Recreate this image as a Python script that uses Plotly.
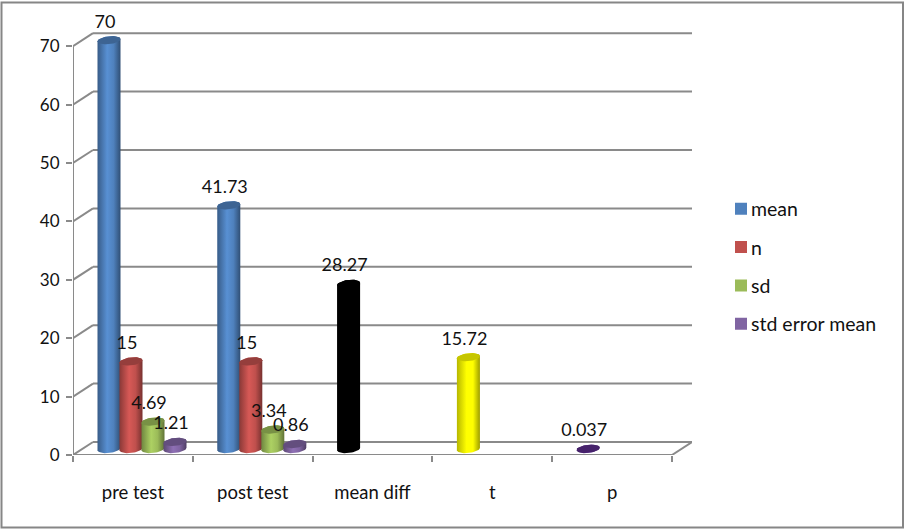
import math
import plotly.graph_objects as go

categories = ["pre test", "post test", "mean diff", "t", "p"]
mean = [70, 41.73, 28.27, 15.72, 0.037]
n = [15, 15, None, None, None]
sd = [4.69, 3.34, None, None, None]
std_error_mean = [1.21, 0.86, None, None, None]
series_names = ["mean", "n", "sd", "std error mean"]
series_values = [mean, n, sd, std_error_mean]
series_colors = ["#4F81BD", "#C0504D", "#9BBB59", "#8064A2"]
mean_point_colors = ["#4F81BD", "#4F81BD", "#000000", "#FFFF00", "#5B2C8A"]
y_ticks = [0, 10, 20, 30, 40, 50, 60, 70]

W, H = 906, 531
LEFT, RIGHT, FLOOR, TOP = 73, 672, 455, 6
DEPTH_X, DEPTH_Y = 20, 13
PX_X = (RIGHT - LEFT) / len(categories)
PX_Y = 5.84
GRID = "#8A8A8A"
FONT = "Lato"
TEXT = "#111111"


def shade(hex_color, f):
    r, g, b = (int(hex_color[i:i + 2], 16) for i in (1, 3, 5))
    return "#%02X%02X%02X" % tuple(min(255, int(c * f)) for c in (r, g, b))


dx, dy = DEPTH_X / PX_X, DEPTH_Y / PX_Y
fig = go.Figure()
shapes = []


def line(x0, y0, x1, y1):
    shapes.append(dict(type="line", xref="x", yref="y", x0=x0, y0=y0, x1=x1, y1=y1,
                       layer="below", line=dict(color=GRID, width=2)))


nc = len(categories)
for v in y_ticks:
    line(0, v, dx, v + dy)
    line(dx, v + dy, nc + dx, v + dy)
line(0, 0, nc, 0)
line(nc, 0, nc + dx, dy)
line(0, 0, 0, y_ticks[-1])

A, B, TILT = 11.5, 4.0, 0.10
BAR_W = 22
GROUP_OFF = 25
BASE = 6.0 / PX_Y


def ell(cx, cy, a0, a1, steps=24):
    xs, ys = [], []
    for k in range(steps + 1):
        t = math.radians(a0 + (a1 - a0) * k / steps)
        px, py = A * math.cos(t), B * math.sin(t) + TILT * A * math.cos(t)
        xs.append(cx + px / PX_X)
        ys.append(cy + py / PX_Y)
    return xs, ys


for j, (name, vals, col) in enumerate(zip(series_names, series_values, series_colors)):
    colors = mean_point_colors if j == 0 else [col] * nc
    fig.add_trace(go.Bar(
        x=list(range(nc)), y=vals, base=[BASE] * nc, name=name,
        width=BAR_W / PX_X, offset=(GROUP_OFF + BAR_W * j) / PX_X,
        marker=dict(color=colors, line=dict(width=0)),
        legendgroup=name, hoverinfo="name+y",
    ))

for j, (name, vals, col) in enumerate(zip(series_names, series_values, series_colors)):
    colors = mean_point_colors if j == 0 else [col] * nc
    lx, ly, lt = [], [], []
    for i, v in enumerate(vals):
        if v is None:
            continue
        c = colors[i]
        cx = i + (GROUP_OFF + BAR_W * j + BAR_W / 2) / PX_X
        top = BASE + v
        bx, by = ell(cx, BASE, 180, 360)
        tx, ty = ell(cx, top, 0, 180)
        fig.add_trace(go.Scatter(
            x=bx + tx + bx[:1], y=by + ty + by[:1], mode="lines", fill="toself",
            line=dict(width=0), showlegend=False, hoverinfo="skip",
            fillgradient=dict(type="horizontal", colorscale=[
                [0, shade(c, 0.72)], [0.42, shade(c, 1.12)], [0.7, shade(c, 1.0)], [1, shade(c, 0.62)]]),
        ))
        ex, ey = ell(cx, top, 0, 360, 48)
        fig.add_trace(go.Scatter(
            x=ex, y=ey, mode="lines", fill="toself", fillcolor=shade(c, 0.78),
            line=dict(width=0), showlegend=False, hoverinfo="skip",
        ))
        lx.append(cx - 4 / PX_X)
        ly.append(top + 17 / PX_Y)
        lt.append(str(v))
    fig.add_trace(go.Scatter(
        x=lx, y=ly, text=lt, mode="text", textposition="middle center",
        textfont=dict(family=FONT, size=18, color=TEXT),
        showlegend=False, hoverinfo="skip",
    ))

# frame around the chart
pw, ph = (RIGHT + DEPTH_X - LEFT), (FLOOR - TOP)
shapes.append(dict(type="rect", xref="paper", yref="paper",
                   x0=(1.5 - LEFT) / pw, x1=(903 - LEFT) / pw,
                   y0=(FLOOR - 527.5) / ph, y1=(FLOOR - 2.5) / ph,
                   layer="below", line=dict(color="#868686", width=2)))

fig.update_layout(
    width=W, height=H, autosize=False,
    margin=dict(l=LEFT, r=W - RIGHT - DEPTH_X, t=TOP, b=H - FLOOR, pad=0, autoexpand=False),
    paper_bgcolor="white", plot_bgcolor="rgba(0,0,0,0)",
    barmode="overlay", shapes=shapes,
    font=dict(family=FONT, size=18, color=TEXT),
    legend=dict(x=(711 - LEFT) / pw, xanchor="left", y=(FLOOR - 266.5) / ph, yanchor="middle",
                traceorder="grouped", tracegroupgap=10, bgcolor="rgba(0,0,0,0)",
                font=dict(family=FONT, size=19.5, color=TEXT)),
    xaxis=dict(range=[0, nc + dx], tickmode="array", tickvals=[i + 0.5 for i in range(nc)],
               ticktext=categories, ticklen=0, ticklabelstandoff=24, showgrid=False, zeroline=False,
               showline=False, tickfont=dict(family=FONT, size=18.5, color=TEXT),
               minor=dict(tickmode="array", tickvals=list(range(nc + 1)), ticks="outside",
                          ticklen=6, tickwidth=2, tickcolor=GRID, showgrid=False)),
    yaxis=dict(range=[0, (FLOOR - TOP) / PX_Y], tickmode="array", tickvals=y_ticks, ticks="outside",
               ticklen=6, tickwidth=2, tickcolor=GRID, showgrid=False, zeroline=False, showline=False,
               ticklabelstandoff=3, tickfont=dict(family=FONT, size=17, color=TEXT)),
)

post = """
document.body.style.margin = '0';
var gd = document.getElementById('{plot_id}');
function moveSwatches() {
  gd.querySelectorAll('.legendsymbols').forEach(function (el) {
    el.setAttribute('transform', 'translate(10,0)');
  });
}
gd.on('plotly_afterplot', moveSwatches);
moveSwatches();
"""
fig.write_html("out.html", post_script=post, config={"displayModeBar": False})
